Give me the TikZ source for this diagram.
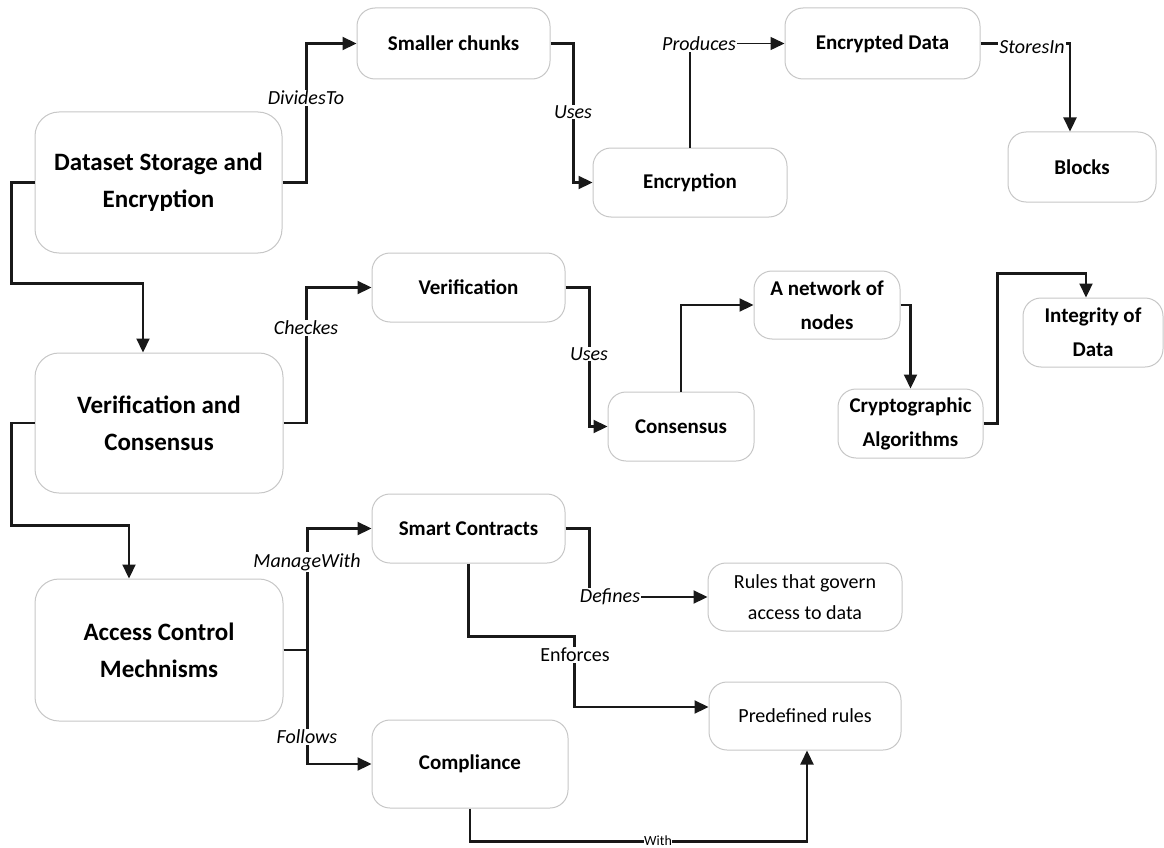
\documentclass[tikz,border=0pt]{standalone}
\usepackage{fontspec}
\setmainfont{Carlito}
\usetikzlibrary{arrows.meta}
\begin{document}
\begin{tikzpicture}[x=1pt,y=-1pt,
  box/.style={draw=black!22, line width=1pt, fill=white, align=center, inner sep=0pt},
  bigbox/.style={box, rounded corners=24pt, font=\fontsize{25}{37}\selectfont\bfseries},
  smbox/.style={box, rounded corners=18pt, font=\fontsize{21}{34}\selectfont\bfseries},
  rgbox/.style={box, rounded corners=18pt, font=\fontsize{20}{31}\selectfont},
  conn/.style={line width=2.2pt, black!90, -{Triangle[length=14pt,width=13pt]}},
  lbl/.style={fill=white, inner sep=1pt, font=\fontsize{20}{24}\selectfont\itshape},
  plbl/.style={fill=white, inner sep=1pt, font=\fontsize{20}{24}\selectfont},
  wlbl/.style={fill=white, inner sep=0.5pt, font=\fontsize{14}{16}\selectfont}]
\useasboundingbox (0,0) rectangle (1164,848);

% nodes
\node[bigbox, minimum width=247pt, minimum height=141pt] (ds) at (158.5,182.5) {Dataset Storage and\\Encryption};
\node[smbox, minimum width=193pt, minimum height=71pt] (sc) at (453.5,43.5) {Smaller chunks};
\node[smbox, minimum width=194pt, minimum height=69pt] (enc) at (690,182.5) {Encryption};
\node[smbox, minimum width=195pt, minimum height=71pt] (ed) at (882.5,43.5) {Encrypted Data};
\node[smbox, minimum width=148pt, minimum height=70pt] (blk) at (1082,167) {Blocks};

\node[bigbox, minimum width=248pt, minimum height=140pt] (vc) at (159,423) {Verification and\\Consensus};
\node[smbox, minimum width=193pt, minimum height=69pt] (ver) at (468.5,287.5) {Verification};
\node[smbox, minimum width=146pt, minimum height=69pt] (cons) at (681,426.5) {Consensus};
\node[smbox, minimum width=146pt, minimum height=68pt] (net) at (827,305) {A network of\\nodes};
\node[smbox, minimum width=145pt, minimum height=69pt] (cry) at (910.5,423.5) {Cryptographic\\Algorithms};
\node[smbox, minimum width=140pt, minimum height=69pt] (integ) at (1093,332.5) {Integrity of\\Data};

\node[bigbox, minimum width=248pt, minimum height=142pt] (ac) at (159,650) {Access Control\\Mechnisms};
\node[smbox, minimum width=193pt, minimum height=69pt] (smc) at (468.5,528.5) {Smart Contracts};
\node[rgbox, minimum width=194pt, minimum height=68pt] (rules) at (805,597) {Rules that govern\\access to data};
\node[rgbox, minimum width=192pt, minimum height=68pt] (pre) at (805,716) {Predefined rules};
\node[smbox, minimum width=196pt, minimum height=88pt] (comp) at (470,764) {Compliance};

% connectors
\draw[conn] (ds.east) -- ++(24,0) |- (sc.west);
\node[lbl] (l1) at (306,98) {DividesTo};

\draw[conn] (ds.west) -- ++(-23,0) |- ([xshift=-16pt,yshift=69pt]vc.north) -- ([xshift=-16pt]vc.north);

\draw[conn] (sc.east) -- ++(23,0) |- (enc.west);
\node[lbl] (l2) at (573,112) {Uses};

\draw[conn, line width=1.4pt] (enc.north) |- (ed.west);
\node[lbl] (l3) at (699,44) {Produces};

\draw[conn] (ed.east) -| ([xshift=-12pt]blk.north);
\node[lbl] (l4) at (1032,47) {StoresIn};

\draw[conn] (vc.east) -- ++(23,0) |- (ver.west);
\node[lbl] (l5) at (306,328) {Checkes};

\draw[conn] (vc.west) -- ++(-23,0) |- ([xshift=-30pt,yshift=53pt]ac.north) -- ([xshift=-30pt]ac.north);

\draw[conn] (ver.east) -- ++(24,0) |- (cons.west);
\node[lbl] (l6) at (589,354) {Uses};

\draw[conn] (cons.north) |- (net.west);
\draw[conn] (net.east) -| (cry.north);
\draw[conn] (cry.east) -- ++(14,0) |- ([xshift=-7pt,yshift=24pt]integ.north) -- ([xshift=-7pt]integ.north);

\draw[conn] (ac.east) -- ++(24,0) |- (smc.west);
\draw[conn] (ac.east) -- ++(24,0) |- (comp.west);
\node[lbl] (l7) at (307,562) {ManageWith};
\node[lbl] (l8) at (307,737) {Follows};

\draw[conn] (smc.east) -- ++(24,0) |- (rules.west);
\node[lbl] (l9) at (610,597) {Defines};

\draw[conn] (smc.south) -- ++(0,73) -- ++(106,0) |- ([yshift=9pt]pre.west);
\node[plbl] (l10) at (575,655) {Enforces};

\draw[conn] (comp.south) -- ++(0,33) -| ([xshift=2pt]pre.south);
\node[wlbl] (l11) at (658,841) {With};
\end{tikzpicture}
\end{document}
